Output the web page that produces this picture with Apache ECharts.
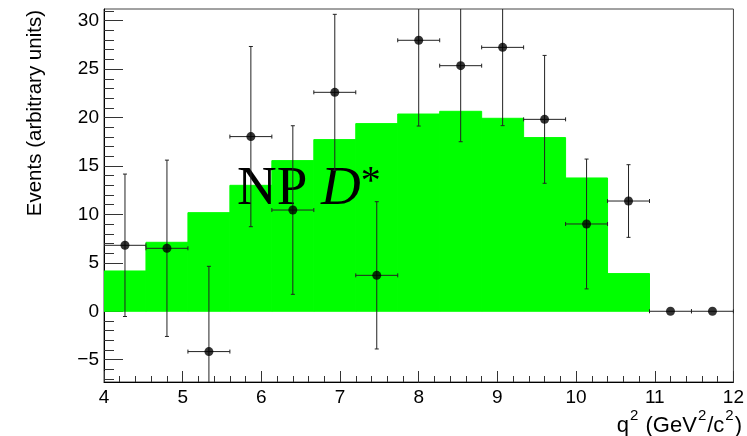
<!DOCTYPE html>
<html>
<head>
<meta charset="utf-8">
<script src="https://cdn.jsdelivr.net/npm/echarts@6/dist/echarts.min.js"></script>
<style>
html,body{margin:0;padding:0;background:#fff;}
#chart{width:747px;height:436px;}
</style>
</head>
<body>
<div id="chart"></div>
<script>
// q^2 bin edges (GeV^2/c^2), 15 bins
const binEdges = [4, 4.5333, 5.0667, 5.6, 6.1333, 6.6667, 7.2, 7.7333, 8.2667, 8.8, 9.3333, 9.8667, 10.4, 10.9333, 11.4667, 12];
// NP D* histogram (green)
const npValues = [4.16, 7.12, 10.18, 13.0, 15.55, 17.72, 19.37, 20.36, 20.64, 19.92, 17.93, 13.76, 3.89, 0, 0];
// data points and their symmetric errors
const dataValues = [6.81, 6.5, -4.16, 18.03, 10.45, 22.6, 3.71, 27.97, 25.35, 27.24, 19.81, 9.01, 11.38, 0, 0];
const dataErrors = [7.35, 9.1, 8.8, 9.3, 8.7, 8.05, 7.6, 8.85, 7.85, 8.08, 6.6, 6.7, 3.75, 0, 0];
// axis ticks
const yMajorTicks = [-5, 0, 5, 10, 15, 20, 25, 30];
const yMinorTicks = [-7, -6, -5, -4, -3, -2, -1, 0, 1, 2, 3, 4, 5, 6, 7, 8, 9, 10, 11, 12, 13, 14, 15, 16, 17, 18, 19, 20, 21, 22, 23, 24, 25, 26, 27, 28, 29, 30, 31];
const yMin = -7.3, yMax = 31.2;
const xMin = 4, xMax = 12;

const chart = echarts.init(document.getElementById('chart'), null, {renderer: 'canvas'});

const histData = npValues.map((v, i) => [binEdges[i], binEdges[i + 1], v]);
const errData = dataValues.map((v, i) => [binEdges[i], binEdges[i + 1], v, dataErrors[i]]);
const pointData = dataValues.map((v, i) => [(binEdges[i] + binEdges[i + 1]) / 2, v]);

const FONT = '"Liberation Sans", Arial, Helvetica, sans-serif';
const SERIF = '"Liberation Serif", "Times New Roman", Times, serif';

const option = {
  backgroundColor: '#fff',
  animation: false,
  grid: {left: 104, right: 13, top: 9, bottom: 54, show: true, borderColor: '#444', borderWidth: 1, backgroundColor: 'transparent'},
  xAxis: {
    type: 'value', min: xMin, max: xMax, interval: 1,
    axisLine: {show: true, onZero: false, lineStyle: {color: '#000', width: 1}},
    axisTick: {show: true, inside: true, length: 11, lineStyle: {color: '#333'}},
    minorTick: {show: true, splitNumber: 5, length: 6, lineStyle: {color: '#333'}},
    splitLine: {show: false},
    axisLabel: {fontFamily: FONT, fontSize: 19, color: '#000', margin: 6}
  },
  yAxis: [{
    type: 'value', min: yMin, max: yMax,
    axisLine: {show: true, onZero: false, lineStyle: {color: '#000', width: 1}},
    axisTick: {show: true, inside: true, length: 19, customValues: yMajorTicks, lineStyle: {color: '#333'}},
    splitLine: {show: false},
    axisLabel: {fontFamily: FONT, fontSize: 19, color: '#000', margin: 5, customValues: yMajorTicks,
      formatter: v => (v < 0 ? '\u2212' + Math.abs(v) : String(v))}
  }, {
    type: 'value', min: yMin, max: yMax, position: 'left', offset: 0,
    axisLine: {show: false},
    axisTick: {show: true, inside: true, length: 10, customValues: yMinorTicks, lineStyle: {color: '#333'}},
    splitLine: {show: false},
    axisLabel: {show: false}
  }],
  graphic: [
    {type: 'text', x: 35, y: 10, rotation: Math.PI / 2, z: 10,
      style: {text: 'Events (arbitrary units)', fontFamily: FONT, fontSize: 20.5, fill: '#000', align: 'right', verticalAlign: 'middle'}},
    {type: 'text', x: 742, y: 437, z: 10,
      style: {text: '{n|q}{s|2}{n| (GeV}{s|2}{n|/c}{s|2}{n|)}', align: 'right', verticalAlign: 'bottom',
        rich: {
          n: {fontFamily: FONT, fontSize: 22, fill: '#000', lineHeight: 29, verticalAlign: 'bottom'},
          s: {fontFamily: FONT, fontSize: 15, fill: '#000', lineHeight: 29, verticalAlign: 'top', padding: [0, 1, 0, 1]}
        }}},
    {type: 'text', x: 237, y: 217, z: 3,
      style: {text: '{n|NP }{d|D}{a|*}', align: 'left', verticalAlign: 'bottom',
        rich: {
          n: {fontFamily: SERIF, fontSize: 55, fill: '#000', lineHeight: 55, verticalAlign: 'bottom'},
          d: {fontFamily: SERIF, fontSize: 55, fontStyle: 'italic', fill: '#000', lineHeight: 55, verticalAlign: 'bottom'},
          a: {fontFamily: SERIF, fontSize: 40, fill: '#000', lineHeight: 55, verticalAlign: 'top'}
        }}}
  ],
  series: [
    {
      type: 'custom', name: 'NP D*', z: 1, clip: true,
      data: histData,
      encode: {x: [0, 1], y: 2},
      renderItem: function (params, api) {
        const v = api.value(2);
        if (v === 0) return null;
        const p0 = api.coord([api.value(0), v]);
        const p1 = api.coord([api.value(1), 0]);
        return {type: 'rect', shape: {x: p0[0], y: p0[1], width: p1[0] - p0[0], height: p1[1] - p0[1]},
          style: {fill: '#00ff00', stroke: '#00ff00', lineWidth: 1}};
      }
    },
    {
      type: 'custom', name: 'errors', z: 5, clip: true,
      data: errData,
      encode: {x: [0, 1], y: 2},
      renderItem: function (params, api) {
        const lo = api.value(0), hi = api.value(1), y = api.value(2), e = api.value(3);
        const xc = (lo + hi) / 2;
        const a = api.coord([lo, y]), b = api.coord([hi, y]);
        const ls = {stroke: '#222', lineWidth: 1};
        const children = [
          {type: 'line', shape: {x1: a[0], y1: a[1], x2: b[0], y2: b[1]}, style: ls},
          {type: 'line', shape: {x1: a[0], y1: a[1] - 2, x2: a[0], y2: a[1] + 2}, style: ls},
          {type: 'line', shape: {x1: b[0], y1: b[1] - 2, x2: b[0], y2: b[1] + 2}, style: ls}
        ];
        if (e > 0) {
          const t = api.coord([xc, y + e]), u = api.coord([xc, y - e]);
          children.push({type: 'line', shape: {x1: t[0], y1: t[1], x2: u[0], y2: u[1]}, style: ls});
          children.push({type: 'line', shape: {x1: t[0] - 2, y1: t[1], x2: t[0] + 2, y2: t[1]}, style: ls});
          children.push({type: 'line', shape: {x1: u[0] - 2, y1: u[1], x2: u[0] + 2, y2: u[1]}, style: ls});
        }
        return {type: 'group', children: children};
      }
    },
    {
      type: 'scatter', name: 'data', z: 6,
      data: pointData, symbol: 'circle', symbolSize: 9,
      itemStyle: {color: '#000'}
    }
  ]
};
chart.setOption(option);
</script>
</body>
</html>
